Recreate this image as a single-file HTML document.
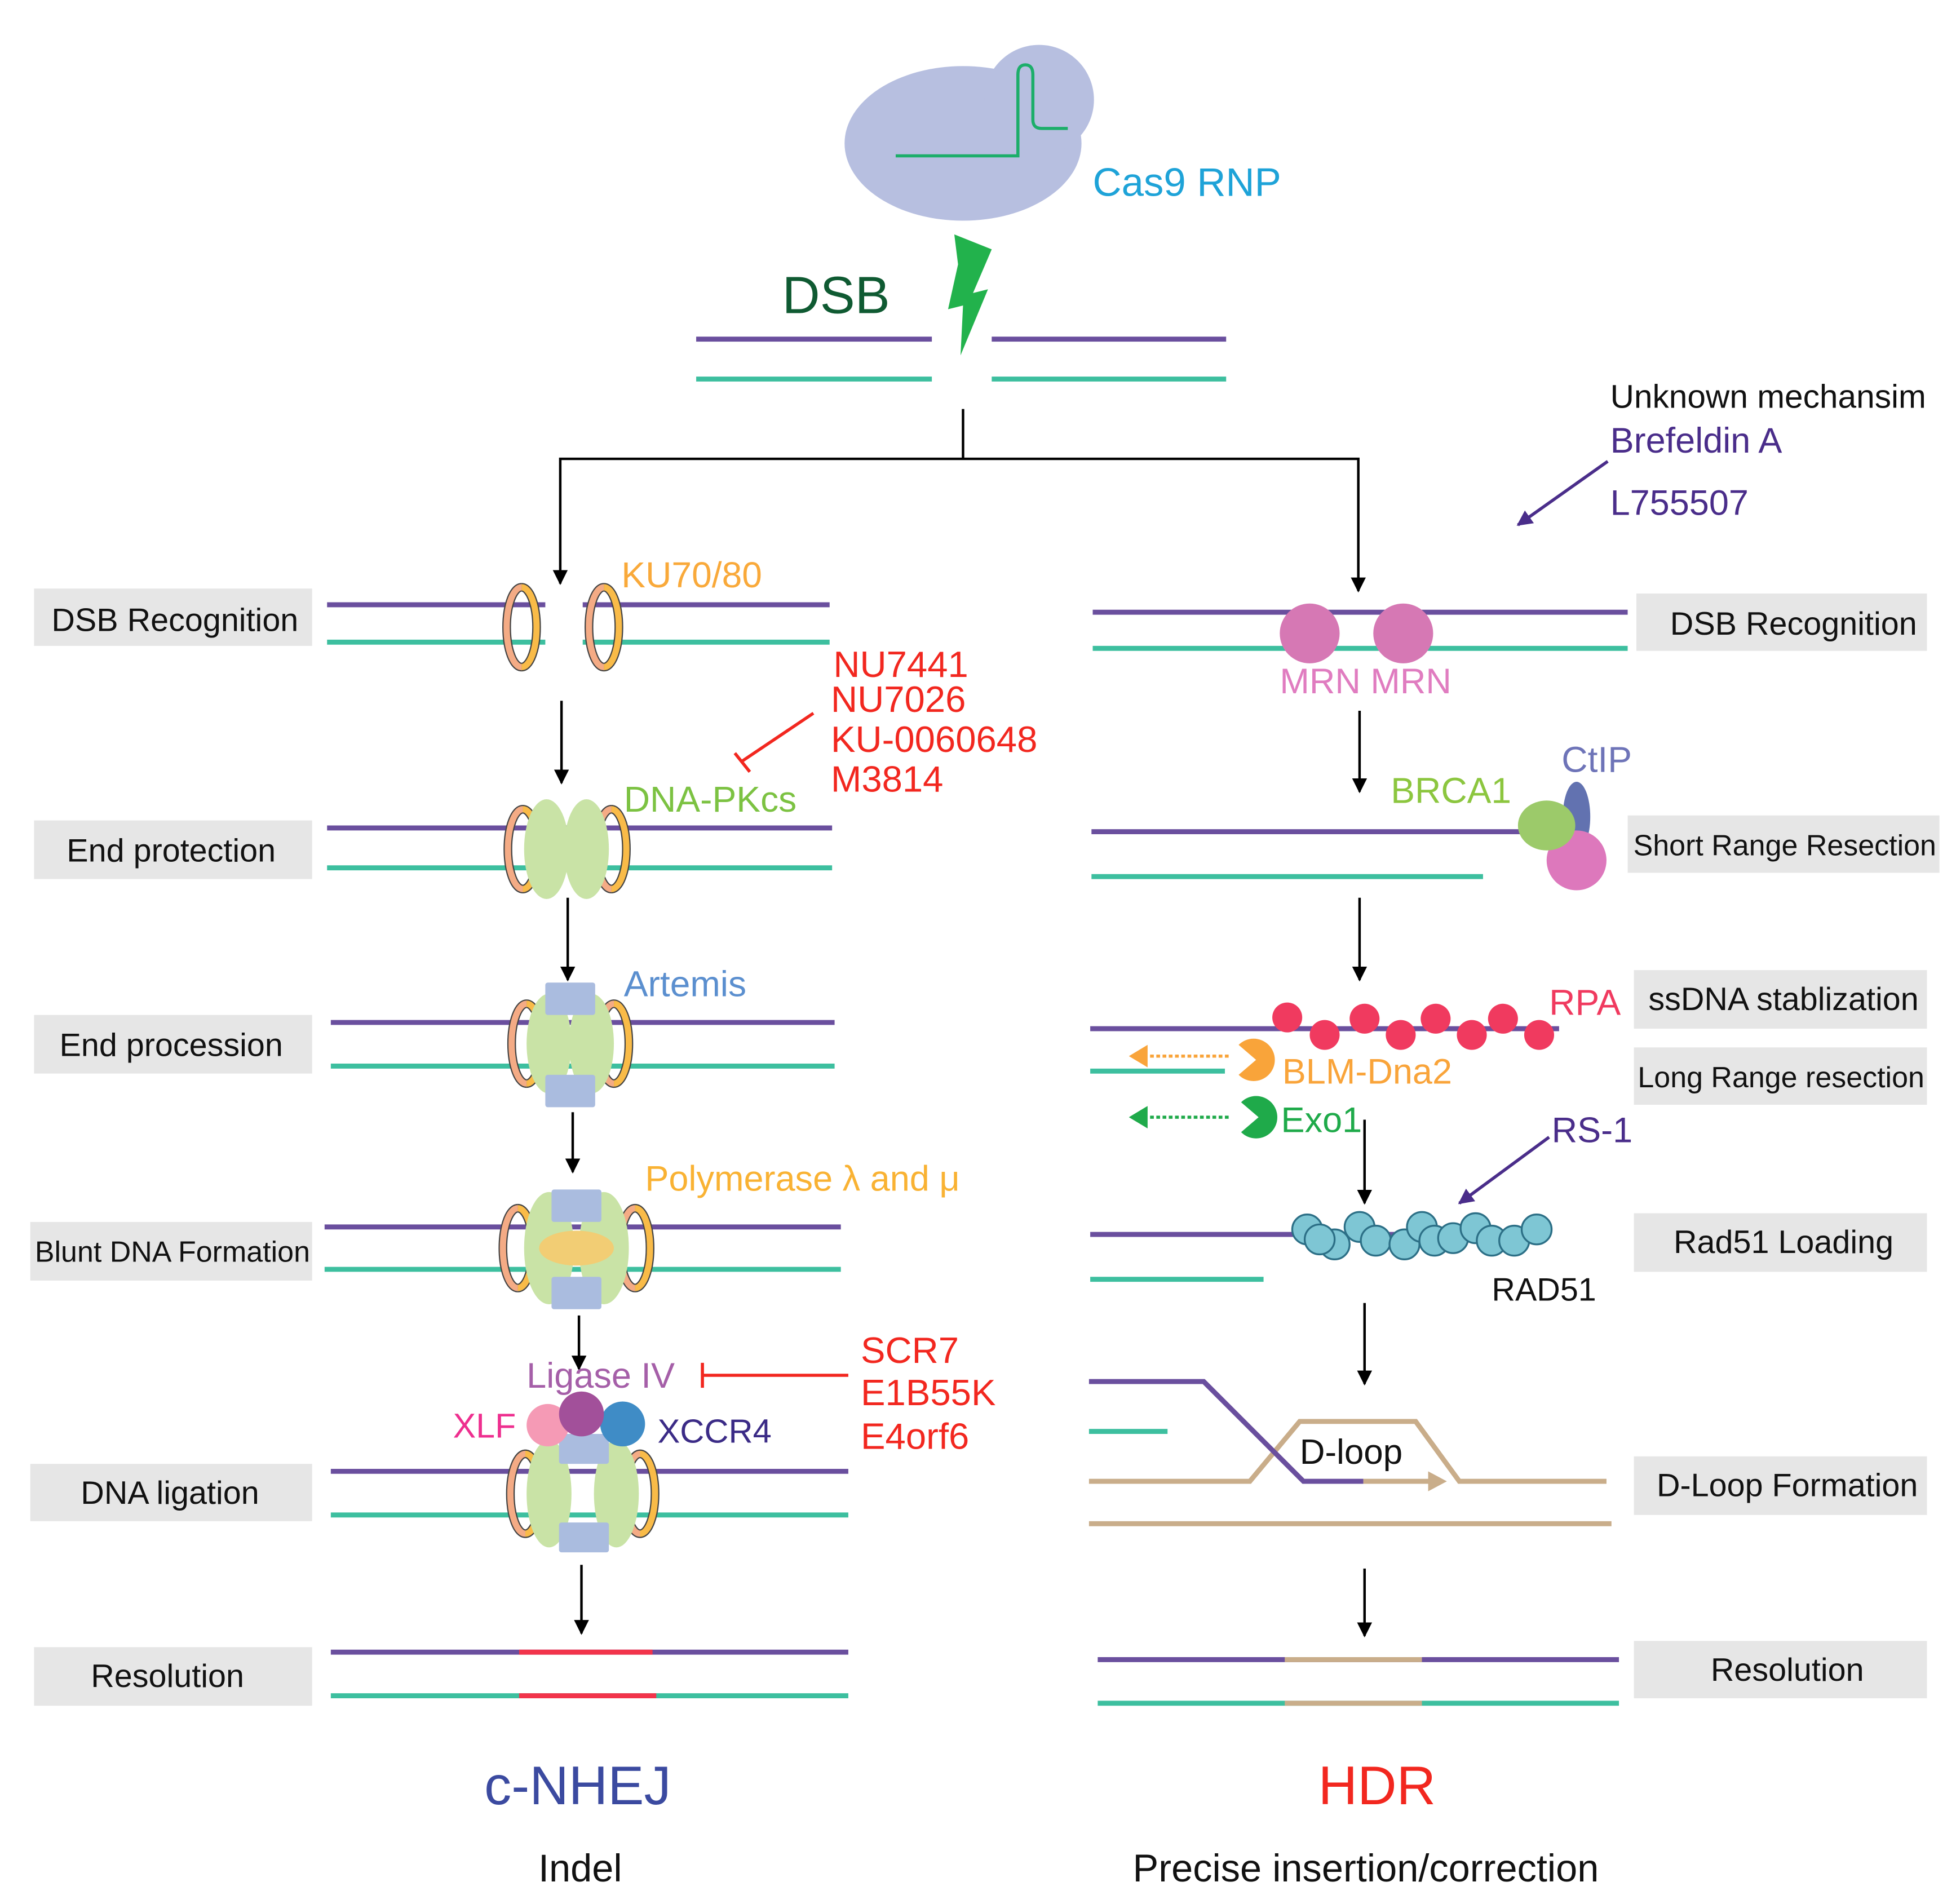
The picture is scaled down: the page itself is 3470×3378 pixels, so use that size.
<!DOCTYPE html>
<html><head><meta charset="utf-8"><style>
html,body{margin:0;padding:0;background:#fff}
svg{display:block}
text{font-family:"Liberation Sans",Arial,sans-serif}
</style></head><body>
<svg width="3470" height="3378" viewBox="0 0 1568 1527" xmlns="http://www.w3.org/2000/svg">
<defs>
<marker id="ar" viewBox="0 0 10 10" refX="9" refY="5" markerWidth="6" markerHeight="6" orient="auto"><path d="M0,0L10,5L0,10z" fill="#000"/></marker>
<marker id="arp" viewBox="0 0 10 10" refX="9" refY="5" markerWidth="5" markerHeight="5" orient="auto"><path d="M0,0L10,5L0,10z" fill="#4a2d8a"/></marker>
<g id="ring">
<path d="M0,-32 A12,32 0 0 0 0,32" fill="none" stroke="#444" stroke-width="7"/>
<path d="M0,-32 A12,32 0 0 1 0,32" fill="none" stroke="#444" stroke-width="7"/>
<path d="M0,-32 A12,32 0 0 0 0,32" fill="none" stroke="#f4ab85" stroke-width="5"/>
<path d="M0,-32 A12,32 0 0 1 0,32" fill="none" stroke="#f9bb48" stroke-width="5"/>
</g>
</defs>
<rect width="1568" height="1527" fill="#fff"/>
<g fill="#e6e6e6">
<rect x="27" y="472" width="223" height="46"/><rect x="27" y="658" width="223" height="47"/><rect x="27" y="814" width="223" height="47"/><rect x="24" y="980" width="226" height="47"/><rect x="24" y="1174" width="226" height="46"/><rect x="27" y="1321" width="223" height="47"/>
<rect x="1312" y="476" width="233" height="46"/><rect x="1305" y="654" width="250" height="46"/><rect x="1310" y="778" width="235" height="47"/><rect x="1310" y="840" width="235" height="46"/><rect x="1310" y="973" width="235" height="47"/><rect x="1310" y="1168" width="235" height="47"/><rect x="1310" y="1316" width="235" height="46"/>
</g>
<g font-size="26" fill="#111" text-anchor="middle">
<text x="140" y="506">DSB Recognition</text><text x="137" y="691">End protection</text><text x="137" y="847">End procession</text><text x="138" y="1012" font-size="23.5">Blunt DNA Formation</text><text x="136" y="1206">DNA ligation</text><text x="134" y="1353">Resolution</text>
<text x="1438" y="509">DSB Recognition</text><text x="1431" y="686" font-size="23.5">Short Range Resection</text><text x="1430" y="810">ssDNA stablization</text><text x="1428" y="872" font-size="23.5">Long Range resection</text><text x="1430" y="1005">Rad51 Loading</text><text x="1433" y="1200">D-Loop Formation</text><text x="1433" y="1348">Resolution</text>
</g>
<ellipse cx="772" cy="115" rx="95" ry="62" fill="#b7bfe0"/><circle cx="833" cy="80" r="44" fill="#b7bfe0"/>
<path d="M718 125L816 125L816 60Q816 52 822 52Q828 52 828 60L828 96Q828 103 835 103L856 103" fill="none" stroke="#1cae6a" stroke-width="2.5"/>
<text x="876" y="157" font-size="32" fill="#1ea3d8">Cas9 RNP</text>
<path d="M765 188L795 200L780 235L792 232L770 285L772 245L760 248L768 212Z" fill="#22b24c"/>
<text x="627" y="251" font-size="42" fill="#0f5a32">DSB</text>
<g stroke-width="4"><line x1="558" y1="272" x2="747" y2="272" stroke="#6a4f9e"/><line x1="795" y1="272" x2="983" y2="272" stroke="#6a4f9e"/><line x1="558" y1="304" x2="747" y2="304" stroke="#3dbf9f"/><line x1="795" y1="304" x2="983" y2="304" stroke="#3dbf9f"/></g>
<g stroke="#000" stroke-width="2" fill="none">
<line x1="772" y1="328" x2="772" y2="368"/><polyline points="449,468 449,368 1089,368 1089,474" /><line x1="449" y1="460" x2="449" y2="468" marker-end="url(#ar)"/><line x1="1089" y1="466" x2="1089" y2="474" marker-end="url(#ar)"/>
<line x1="450" y1="562" x2="450" y2="628" marker-end="url(#ar)"/><line x1="455" y1="720" x2="455" y2="786" marker-end="url(#ar)"/><line x1="459" y1="892" x2="459" y2="940" marker-end="url(#ar)"/><line x1="464" y1="1055" x2="464" y2="1098" marker-end="url(#ar)"/><line x1="466" y1="1255" x2="466" y2="1310" marker-end="url(#ar)"/>
<line x1="1090" y1="570" x2="1090" y2="635" marker-end="url(#ar)"/><line x1="1090" y1="720" x2="1090" y2="786" marker-end="url(#ar)"/><line x1="1094" y1="898" x2="1094" y2="965" marker-end="url(#ar)"/><line x1="1094" y1="1045" x2="1094" y2="1110" marker-end="url(#ar)"/><line x1="1094" y1="1258" x2="1094" y2="1312" marker-end="url(#ar)"/>
</g>
<text x="1291" y="327" font-size="26.5" fill="#111">Unknown mechansim</text>
<text x="1291" y="363" font-size="28.5" fill="#4a2d8a">Brefeldin A</text><text x="1291" y="413" font-size="28.5" fill="#4a2d8a">L755507</text>
<line x1="1289" y1="370" x2="1217" y2="421" stroke="#4a2d8a" stroke-width="2.5" marker-end="url(#arp)"/>
<g stroke-width="4">
<line x1="262" y1="485" x2="437" y2="485" stroke="#6a4f9e"/><line x1="467" y1="485" x2="665" y2="485" stroke="#6a4f9e"/><line x1="262" y1="515" x2="437" y2="515" stroke="#3dbf9f"/><line x1="467" y1="515" x2="665" y2="515" stroke="#3dbf9f"/>
<line x1="262" y1="664" x2="667" y2="664" stroke="#6a4f9e"/><line x1="262" y1="696" x2="667" y2="696" stroke="#3dbf9f"/>
<line x1="265" y1="820" x2="669" y2="820" stroke="#6a4f9e"/><line x1="265" y1="855" x2="669" y2="855" stroke="#3dbf9f"/>
<line x1="260" y1="984" x2="674" y2="984" stroke="#6a4f9e"/><line x1="260" y1="1018" x2="674" y2="1018" stroke="#3dbf9f"/>
<line x1="265" y1="1180" x2="680" y2="1180" stroke="#6a4f9e"/><line x1="265" y1="1215" x2="680" y2="1215" stroke="#3dbf9f"/>
<line x1="265" y1="1325" x2="680" y2="1325" stroke="#6a4f9e"/><line x1="265" y1="1360" x2="680" y2="1360" stroke="#3dbf9f"/><line x1="416" y1="1325" x2="523" y2="1325" stroke="#f2344b"/><line x1="416" y1="1360" x2="526" y2="1360" stroke="#f2344b"/>
</g>
<use href="#ring" transform="translate(418,503)"/><use href="#ring" transform="translate(484,503)"/>
<text x="498" y="471" font-size="29" fill="#f9a93a">KU70/80</text>
<use href="#ring" transform="translate(419,681)"/><use href="#ring" transform="translate(490,681)"/>
<ellipse cx="438" cy="681" rx="18" ry="40" fill="#c9e3a6"/><ellipse cx="470" cy="681" rx="18" ry="40" fill="#c9e3a6"/>
<text x="500" y="651" font-size="29" fill="#7cc242">DNA-PKcs</text>
<g font-size="29.5" fill="#f2271f"><text x="668" y="543">NU7441</text><text x="666" y="571">NU7026</text><text x="666" y="603">KU-0060648</text><text x="666" y="635">M3814</text>
<text x="690" y="1093">SCR7</text><text x="690" y="1127">E1B55K</text><text x="690" y="1162">E4orf6</text></g>
<line x1="652" y1="572" x2="594" y2="611" stroke="#f2271f" stroke-width="2.5"/><line x1="589" y1="604" x2="601" y2="619" stroke="#f2271f" stroke-width="2.5"/>
<line x1="563" y1="1103" x2="680" y2="1103" stroke="#f2271f" stroke-width="2.5"/><line x1="563" y1="1093" x2="563" y2="1113" stroke="#f2271f" stroke-width="2.5"/>
<use href="#ring" transform="translate(422,837)"/><use href="#ring" transform="translate(492,837)"/>
<ellipse cx="440" cy="837" rx="18" ry="40" fill="#c9e3a6"/><ellipse cx="474" cy="837" rx="18" ry="40" fill="#c9e3a6"/>
<rect x="437" y="788" width="40" height="26" rx="2" fill="#aabcdf"/><rect x="437" y="862" width="40" height="26" rx="2" fill="#aabcdf"/>
<text x="500" y="799" font-size="29" fill="#5b8fcf">Artemis</text>
<use href="#ring" transform="translate(415,1001)"/><use href="#ring" transform="translate(509,1001)"/>
<ellipse cx="440" cy="1001" rx="20" ry="45" fill="#c9e3a6"/><ellipse cx="484" cy="1001" rx="20" ry="45" fill="#c9e3a6"/>
<rect x="442" y="954" width="40" height="26" rx="2" fill="#aabcdf"/><rect x="442" y="1024" width="40" height="26" rx="2" fill="#aabcdf"/>
<ellipse cx="462" cy="1001" rx="30" ry="14" fill="#f2cd74"/>
<text x="517" y="955" font-size="28.5" fill="#f9b233">Polymerase λ and μ</text>
<use href="#ring" transform="translate(421,1198)"/><use href="#ring" transform="translate(513,1198)"/>
<ellipse cx="440" cy="1198" rx="18" ry="43" fill="#c9e3a6"/><ellipse cx="494" cy="1198" rx="18" ry="43" fill="#c9e3a6"/>
<rect x="448" y="1150" width="40" height="24" rx="2" fill="#aabcdf"/><rect x="448" y="1221" width="40" height="24" rx="2" fill="#aabcdf"/>
<circle cx="439" cy="1143" r="17" fill="#f59ab5"/><circle cx="499" cy="1142" r="18" fill="#3f8cc6"/><circle cx="466" cy="1134" r="18" fill="#a2509a"/>
<text x="422" y="1113" font-size="28.5" fill="#a55fa8">Ligase IV</text>
<text x="363" y="1153" font-size="27.5" fill="#ee2f8f">XLF</text><text x="527" y="1157" font-size="27" fill="#3b2b86">XCCR4</text>
<g stroke-width="4">
<line x1="876" y1="491" x2="1305" y2="491" stroke="#6a4f9e"/><line x1="876" y1="520" x2="1305" y2="520" stroke="#3dbf9f"/>
<line x1="875" y1="667" x2="1240" y2="667" stroke="#6a4f9e"/><line x1="875" y1="703" x2="1189" y2="703" stroke="#3dbf9f"/>
<line x1="874" y1="825" x2="1250" y2="825" stroke="#6a4f9e"/><line x1="874" y1="859" x2="982" y2="859" stroke="#3dbf9f"/>
<line x1="874" y1="990" x2="1240" y2="990" stroke="#6a4f9e"/><line x1="874" y1="1026" x2="1013" y2="1026" stroke="#3dbf9f"/>
<line x1="873" y1="1148" x2="936" y2="1148" stroke="#3dbf9f"/>
<polyline points="873,1188 1002,1188 1042,1140 1135,1140 1170,1188 1288,1188" fill="none" stroke="#c9ad8a"/>
<line x1="873" y1="1222" x2="1292" y2="1222" stroke="#c9ad8a"/>
<polyline points="873,1108 965,1108 1045,1188 1093,1188" fill="none" stroke="#6a4f9e"/>
<line x1="1093" y1="1188" x2="1150" y2="1188" stroke="#c9ad8a"/>
<line x1="880" y1="1331" x2="1298" y2="1331" stroke="#6a4f9e"/><line x1="880" y1="1366" x2="1298" y2="1366" stroke="#3dbf9f"/>
<line x1="1030" y1="1331" x2="1140" y2="1331" stroke="#c9ad8a"/><line x1="1030" y1="1366" x2="1140" y2="1366" stroke="#c9ad8a"/>
</g>
<path d="M1145,1180L1160,1188L1145,1196z" fill="#c9ad8a"/>
<text x="1042" y="1174" font-size="28" fill="#111">D-loop</text>
<circle cx="1050" cy="508" r="24" fill="#d678b4"/><circle cx="1125" cy="508" r="24" fill="#d678b4"/>
<text x="1026" y="556" font-size="28.5" fill="#e07cc0">MRN MRN</text>
<ellipse cx="1264" cy="655" rx="11" ry="28" fill="#6272b0"/><circle cx="1264" cy="690" r="24" fill="#dd78bc"/><ellipse cx="1240" cy="662" rx="23" ry="20" fill="#9cca6a"/>
<text x="1115" y="644" font-size="29" fill="#8cc63f">BRCA1</text><text x="1252" y="619" font-size="29" fill="#6e74b8">CtIP</text>
<g fill="#f03a5f"><circle cx="1032" cy="816" r="12"/><circle cx="1062" cy="830" r="12"/><circle cx="1094" cy="817" r="12"/><circle cx="1123" cy="830" r="12"/><circle cx="1151" cy="817" r="12"/><circle cx="1180" cy="830" r="12"/><circle cx="1205" cy="817" r="12"/><circle cx="1234" cy="830" r="12"/></g>
<text x="1242" y="814" font-size="29" fill="#f03a5f">RPA</text>
<path d="M1007,850 L993,838 A17,17 0 1 1 993,862 Z" fill="#f9a43a"/>
<path d="M1009,896 L995,884 A17,17 0 1 1 995,908 Z" fill="#1faa4a"/>
<line x1="985" y1="847" x2="920" y2="847" stroke="#f9a43a" stroke-width="2.5" stroke-dasharray="3,2"/><path d="M920,838L905,847L920,856z" fill="#f9a43a"/>
<line x1="985" y1="896" x2="920" y2="896" stroke="#1faa4a" stroke-width="2.5" stroke-dasharray="3,2"/><path d="M920,887L905,896L920,905z" fill="#1faa4a"/>
<text x="1028" y="869" font-size="28.5" fill="#f9a43a">BLM-Dna2</text><text x="1027" y="908" font-size="28.5" fill="#1faa4a">Exo1</text>
<g fill="#7ec6d4" stroke="#2c6f86" stroke-width="1.5">
<circle cx="1048" cy="986" r="12"/><circle cx="1070" cy="998" r="12"/><circle cx="1090" cy="984" r="12"/><circle cx="1103" cy="995" r="12"/><circle cx="1126" cy="998" r="12"/><circle cx="1140" cy="984" r="12"/><circle cx="1150" cy="995" r="12"/><circle cx="1165" cy="993" r="12"/><circle cx="1183" cy="985" r="12"/><circle cx="1196" cy="995" r="12"/><circle cx="1214" cy="995" r="12"/><circle cx="1232" cy="986" r="12"/><circle cx="1058" cy="994" r="12"/>
</g>
<text x="1196" y="1043" font-size="26" fill="#111">RAD51</text>
<text x="1244" y="916" font-size="28.5" fill="#4a2d8a">RS-1</text>
<line x1="1242" y1="912" x2="1170" y2="965" stroke="#4a2d8a" stroke-width="2.5" marker-end="url(#arp)"/>
<text x="463" y="1447" font-size="43.5" fill="#3b4aa0" text-anchor="middle">c-NHEJ</text>
<text x="1104" y="1447" font-size="43.5" fill="#f2271f" text-anchor="middle">HDR</text>
<text x="465" y="1509" font-size="31" fill="#111" text-anchor="middle">Indel</text>
<text x="1095" y="1509" font-size="31" fill="#111" text-anchor="middle">Precise insertion/correction</text>
</svg>
</body></html>
